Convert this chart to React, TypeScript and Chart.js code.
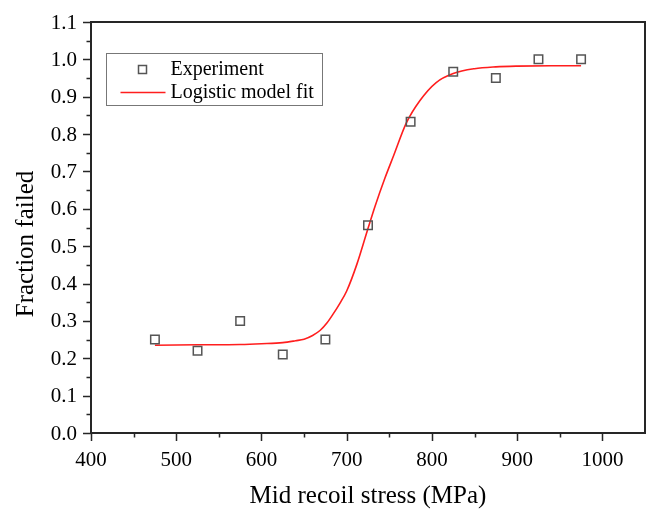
import React, { useEffect, useRef } from "react";
import { Chart, registerables } from "chart.js";

Chart.register(...registerables);

// Experimental data
const stress = [475, 525, 575, 625, 675, 725, 775, 825, 875, 925, 975];
const fractionFailed = [0.25, 0.22, 0.3, 0.21, 0.25, 0.556, 0.833, 0.967, 0.95, 1.0, 1.0];

// Logistic model fit curve
const fitX = [475, 525, 575, 600, 625, 640, 650, 660, 669, 677, 684, 692, 700, 712, 724, 733, 745, 755, 770, 786, 805, 825, 850, 875, 900, 940, 975];
const fitY = [0.235, 0.236, 0.237, 0.239, 0.242, 0.247, 0.251, 0.261, 0.275, 0.295, 0.318, 0.347, 0.38, 0.452, 0.54, 0.605, 0.683, 0.742, 0.83, 0.89, 0.938, 0.962, 0.975, 0.98, 0.982, 0.983, 0.983];

// Axis ticks
const xMajor = [400, 500, 600, 700, 800, 900, 1000];
const xMinor = [450, 550, 650, 750, 850, 950];
const yMajor = [0, 0.1, 0.2, 0.3, 0.4, 0.5, 0.6, 0.7, 0.8, 0.9, 1.0, 1.1];
const yMinor = [0.05, 0.15, 0.25, 0.35, 0.45, 0.55, 0.65, 0.75, 0.85, 0.95, 1.05];

const xTitle = "Mid recoil stress (MPa)";
const yTitle = "Fraction failed";
const seriesNames = ["Experiment", "Logistic model fit"];

const FONT = "'Liberation Serif', 'Times New Roman', serif";
const AXIS_COLOR = "#262626";
const RED = "rgb(255,30,30)";
const MARK = "#555555";

const framePlugin = {
  id: "originFrame",
  afterDraw(chart: any) {
    const ctx = chart.ctx;
    const { left, right, top, bottom } = chart.chartArea;
    const xs = chart.scales.x;
    const ys = chart.scales.y;
    ctx.save();
    // frame
    ctx.strokeStyle = AXIS_COLOR;
    ctx.lineWidth = 2;
    ctx.strokeRect(left, top, right - left, bottom - top);
    // ticks
    ctx.lineWidth = 1.5;
    ctx.beginPath();
    xMajor.forEach((v) => {
      const px = Math.round(xs.getPixelForValue(v)) + 0.5;
      ctx.moveTo(px, bottom);
      ctx.lineTo(px, bottom + 8);
    });
    xMinor.forEach((v) => {
      const px = Math.round(xs.getPixelForValue(v)) + 0.5;
      ctx.moveTo(px, bottom);
      ctx.lineTo(px, bottom + 4.5);
    });
    yMajor.forEach((v) => {
      const py = Math.round(ys.getPixelForValue(v)) + 0.5;
      ctx.moveTo(left, py);
      ctx.lineTo(left - 8, py);
    });
    yMinor.forEach((v) => {
      const py = Math.round(ys.getPixelForValue(v)) + 0.5;
      ctx.moveTo(left, py);
      ctx.lineTo(left - 4.5, py);
    });
    ctx.stroke();

    // tick labels
    ctx.fillStyle = "#000";
    ctx.font = `21px ${FONT}`;
    ctx.textAlign = "center";
    ctx.textBaseline = "alphabetic";
    xMajor.forEach((v) => {
      ctx.fillText(String(v), xs.getPixelForValue(v), bottom + 33);
    });
    ctx.textAlign = "right";
    ctx.textBaseline = "middle";
    yMajor.forEach((v) => {
      ctx.fillText(v.toFixed(1), left - 14, ys.getPixelForValue(v) + 1);
    });

    // axis titles
    ctx.font = `25px ${FONT}`;
    ctx.textAlign = "center";
    ctx.textBaseline = "alphabetic";
    ctx.fillText(xTitle, (left + right) / 2, 503);
    ctx.save();
    ctx.translate(33, 244);
    ctx.rotate(-Math.PI / 2);
    ctx.fillText(yTitle, 0, 0);
    ctx.restore();

    // legend
    ctx.strokeStyle = "#777";
    ctx.lineWidth = 1;
    ctx.strokeRect(106.5, 53.5, 216, 52);
    ctx.strokeStyle = MARK;
    ctx.lineWidth = 1.5;
    ctx.strokeRect(138.5, 65.5, 8, 8);
    ctx.strokeStyle = RED;
    ctx.lineWidth = 1.6;
    ctx.beginPath();
    ctx.moveTo(120.5, 92.5);
    ctx.lineTo(165.5, 92.5);
    ctx.stroke();
    ctx.fillStyle = "#000";
    ctx.font = `20px ${FONT}`;
    ctx.textAlign = "left";
    ctx.textBaseline = "middle";
    ctx.fillText(seriesNames[0], 170.5, 70);
    ctx.fillText(seriesNames[1], 170.5, 93);
    ctx.restore();
  },
};

export default function App() {
  const ref = useRef<HTMLCanvasElement | null>(null);
  useEffect(() => {
    document.body.style.margin = "0";
    const canvas = ref.current;
    if (!canvas) return;
    const chart = new Chart(canvas, {
      type: "scatter",
      data: {
        datasets: [
          {
            label: seriesNames[0],
            data: stress.map((x, i) => ({ x, y: fractionFailed[i] })),
            showLine: false,
            pointStyle: "rect",
            pointRadius: 6,
            pointHoverRadius: 6,
            pointBorderWidth: 1.5,
            borderColor: MARK,
            backgroundColor: "rgba(0,0,0,0)",
          },
          {
            label: seriesNames[1],
            data: fitX.map((x, i) => ({ x, y: fitY[i] })),
            showLine: true,
            pointRadius: 0,
            borderColor: RED,
            borderWidth: 1.6,
            cubicInterpolationMode: "monotone",
            backgroundColor: RED,
          },
        ],
      },
      options: {
        responsive: false,
        animation: false,
        events: [],
        layout: { autoPadding: false, padding: { top: 22, right: 2, left: 0, bottom: 0 } },
        plugins: { legend: { display: false }, tooltip: { enabled: false } },
        scales: {
          x: {
            type: "linear",
            min: 400,
            max: 1050,
            grid: { display: false, drawTicks: false },
            border: { display: false },
            ticks: { display: false },
            afterFit: (s: any) => {
              s.height = 76;
            },
          },
          y: {
            type: "linear",
            min: 0,
            max: 1.1,
            grid: { display: false, drawTicks: false },
            border: { display: false },
            ticks: { display: false },
            afterFit: (s: any) => {
              s.width = 91;
            },
          },
        },
      },
      plugins: [framePlugin],
    } as any);
    return () => chart.destroy();
  }, []);
  return (
    <div style={{ width: 647, height: 509, background: "#fff" }}>
      <canvas ref={ref} width={647} height={509} />
    </div>
  );
}
